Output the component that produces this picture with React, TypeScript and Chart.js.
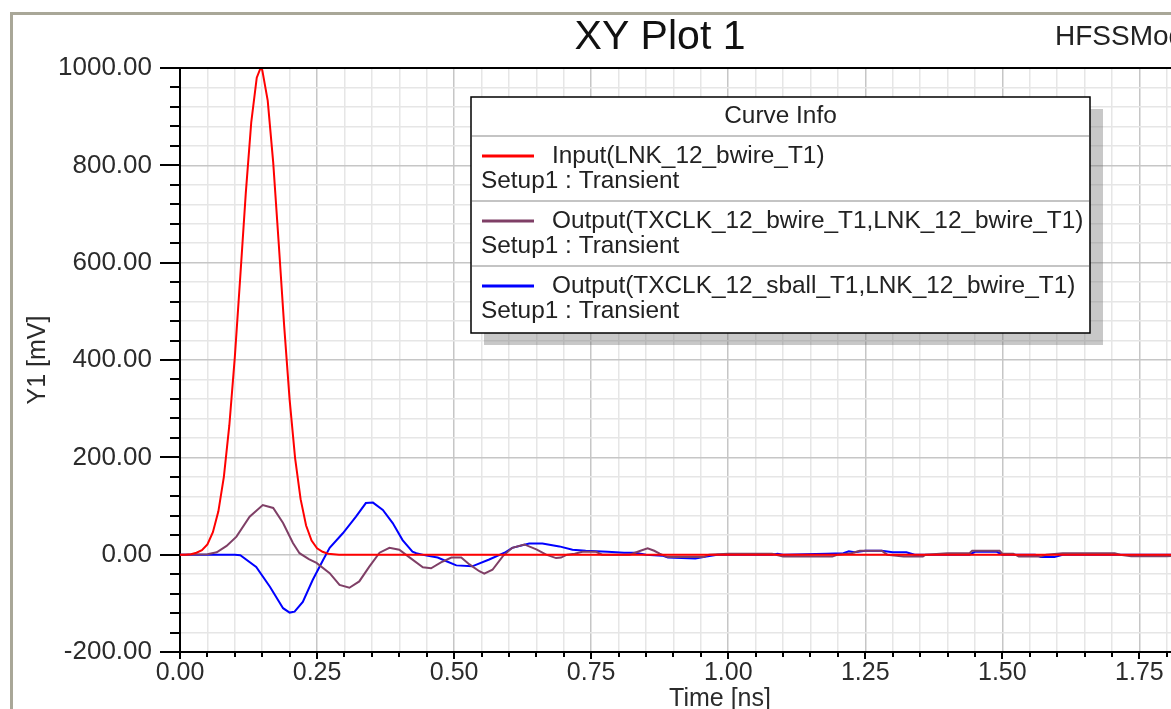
import React, { useEffect, useRef } from "react";
import { Chart, registerables } from "chart.js";

Chart.register(...registerables);

// ---------- data ----------
const chartTitle = "XY Plot 1";
const projectName = "HFSSModel1";
const xAxisTitle = "Time [ns]";
const yAxisTitle = "Y1 [mV]";
const legendTitle = "Curve Info";
const seriesSetup = "Setup1 : Transient";

const seriesLabels = [
  "Input(LNK_12_bwire_T1)",
  "Output(TXCLK_12_bwire_T1,LNK_12_bwire_T1)",
  "Output(TXCLK_12_sball_T1,LNK_12_bwire_T1)",
];
const seriesColors = ["#ff0000", "#7f3f66", "#0000ff"];

const inputTimeNs = [0, 0.01, 0.02, 0.03, 0.04, 0.05, 0.06, 0.07, 0.08, 0.09, 0.1, 0.11, 0.12, 0.13, 0.14, 0.147, 0.15, 0.16, 0.17, 0.18, 0.19, 0.2, 0.21, 0.22, 0.23, 0.24, 0.25, 0.26, 0.27, 0.28, 0.29, 2.0];
const inputMv = [0, 0, 1, 4, 9, 21, 46, 89, 160, 266, 406, 572, 743, 889, 980, 1000, 996, 933, 806, 641, 470, 318, 198, 114, 60, 29, 13, 6, 2, 1, 0, 0];

const bwireTimeNs = [0, 0.05, 0.067, 0.085, 0.103, 0.127, 0.151, 0.17, 0.188, 0.206, 0.218, 0.235, 0.249, 0.273, 0.291, 0.309, 0.327, 0.345, 0.364, 0.382, 0.4, 0.418, 0.443, 0.458, 0.476, 0.495, 0.513, 0.528, 0.546, 0.555, 0.57, 0.589, 0.606, 0.628, 0.65, 0.668, 0.686, 0.695, 0.706, 0.72, 0.734, 0.759, 0.77, 0.82, 0.84, 0.853, 0.865, 0.875, 0.885, 0.89, 0.955, 0.965, 1.0, 1.08, 1.1, 1.19, 1.2, 1.225, 1.24, 1.28, 1.29, 1.32, 1.355, 1.36, 1.4, 1.44, 1.445, 1.495, 1.5, 1.52, 1.53, 1.57, 1.58, 1.61, 1.705, 1.715, 1.735, 1.8, 1.85, 2.0];
const bwireMv = [0, 1, 5, 18, 37, 78, 102, 96, 65, 24, 3, -9, -17, -38, -62, -68, -55, -25, 4, 14, 10, -5, -26, -28, -16, -6, -6, -20, -34, -39, -31, -3, 14, 21, 11, 0, -7, -6, 0, 2, 6, 6, 0, 0, 8, 13, 8, 2, -3, -5, -5, 0, 2, 2, -4, -4, 0, 3, 8, 8, 0, -4, -4, 0, 3, 3, 8, 8, 2, 2, -4, -4, 0, 3, 3, 0, -3, -3, 0, 0];

const sballTimeNs = [0, 0.1, 0.11, 0.139, 0.164, 0.188, 0.2, 0.209, 0.224, 0.242, 0.261, 0.273, 0.297, 0.321, 0.339, 0.352, 0.37, 0.388, 0.406, 0.424, 0.431, 0.45, 0.47, 0.485, 0.504, 0.533, 0.564, 0.592, 0.606, 0.637, 0.661, 0.692, 0.716, 0.74, 0.78, 0.81, 0.83, 0.85, 0.88, 0.89, 0.94, 0.96, 0.98, 1.08, 1.09, 1.1, 1.18, 1.21, 1.22, 1.23, 1.25, 1.28, 1.3, 1.325, 1.34, 1.44, 1.45, 1.49, 1.5, 1.56, 1.57, 1.595, 1.61, 2.0];
const sballMv = [0, 0, -1, -25, -66, -110, -119, -117, -97, -52, -11, 14, 44, 78, 106, 107, 92, 65, 30, 6, 3, -2, -6, -13, -22, -24, -10, 4, 14, 23, 23, 17, 10, 8, 6, 4, 4, 0, -2, -6, -8, -4, 0, 0, 2, 0, 2, 3, 7, 5, 8, 8, 5, 5, 0, 0, 6, 6, 0, 0, -5, -5, 0, 0];

// axis ranges and tick steps
const xMin = 0;
const xMax = 1.97;
const xMinorStep = 0.05;
const xMajorStep = 0.25;
const yMin = -200;
const yMax = 1000;
const yMinorStep = 40;
const yMajorStep = 200;

// ---------- layout ----------
const CANVAS_W = 1320;
const CANVAS_H = 730;
const PLOT_LEFT = 180;
const PLOT_TOP = 68;
const PLOT_BOTTOM = 652;
const PLOT_RIGHT = 1260;
const FONT = "'Liberation Sans', Arial, sans-serif";

const isMultiple = (v: number, step: number) => Math.abs(v / step - Math.round(v / step)) < 1e-6;

const decorPlugin = {
  id: "decor",
  beforeDraw(chart: any) {
    const ctx = chart.ctx;
    ctx.save();
    ctx.fillStyle = "#ffffff";
    ctx.fillRect(0, 0, chart.width, chart.height);
    // outer window frame
    ctx.strokeStyle = "#a9a798";
    ctx.lineWidth = 3;
    ctx.beginPath();
    ctx.moveTo(11.5, chart.height);
    ctx.lineTo(11.5, 13.5);
    ctx.lineTo(chart.width, 13.5);
    ctx.stroke();
    ctx.restore();
  },
  afterDraw(chart: any) {
    const ctx = chart.ctx;
    const xs = chart.scales.x;
    const ys = chart.scales.y;
    const area = chart.chartArea;
    ctx.save();
    // titles
    ctx.fillStyle = "#111111";
    ctx.font = `41px ${FONT}`;
    ctx.textAlign = "center";
    ctx.textBaseline = "middle";
    ctx.fillText(chartTitle, 660, 38);
    ctx.font = `28px ${FONT}`;
    ctx.textAlign = "left";
    ctx.fillStyle = "#222222";
    ctx.fillText(projectName, 1055, 37);

    // axis lines and tick marks
    ctx.strokeStyle = "#000000";
    ctx.lineWidth = 2;
    ctx.beginPath();
    ctx.moveTo(160, area.top);
    ctx.lineTo(chart.width, area.top);
    ctx.stroke();
    ys.ticks.forEach((t: any) => {
      const py = Math.round(ys.getPixelForValue(t.value));
      const major = isMultiple(t.value, yMajorStep);
      ctx.beginPath();
      ctx.moveTo(major ? 160 : 170, py);
      ctx.lineTo(area.left, py);
      ctx.stroke();
    });
    xs.ticks.forEach((t: any) => {
      const px = Math.round(xs.getPixelForValue(t.value));
      const major = isMultiple(t.value, xMajorStep);
      ctx.beginPath();
      ctx.moveTo(px, area.bottom);
      ctx.lineTo(px, area.bottom + (major ? 7 : 5));
      ctx.stroke();
    });

    // legend ("Curve Info" box)
    const lx = 471, ly = 97, lw = 619, lh = 236;
    ctx.fillStyle = "rgba(110,110,110,0.38)";
    ctx.fillRect(lx + 13, ly + 12, lw, lh);
    ctx.fillStyle = "#ffffff";
    ctx.fillRect(lx, ly, lw, lh);
    ctx.strokeStyle = "#000000";
    ctx.lineWidth = 1.5;
    ctx.strokeRect(lx, ly, lw, lh);
    ctx.fillStyle = "#222222";
    ctx.font = `24.4px ${FONT}`;
    ctx.textAlign = "center";
    ctx.textBaseline = "middle";
    ctx.fillText(legendTitle, lx + lw / 2, 116);
    const sepY = [136, 201, 266];
    const rowY = [156, 221, 286];
    ctx.strokeStyle = "#c4c4c4";
    ctx.lineWidth = 2;
    sepY.forEach((y) => {
      ctx.beginPath();
      ctx.moveTo(lx + 1, y);
      ctx.lineTo(lx + lw - 1, y);
      ctx.stroke();
    });
    chart.data.datasets.forEach((ds: any, i: number) => {
      const y = rowY[i];
      ctx.strokeStyle = ds.borderColor;
      ctx.lineWidth = 3;
      ctx.beginPath();
      ctx.moveTo(lx + 11, y);
      ctx.lineTo(lx + 63, y);
      ctx.stroke();
      ctx.fillStyle = "#222222";
      ctx.textAlign = "left";
      ctx.fillText(ds.label, lx + 81, y);
      ctx.fillText(seriesSetup, lx + 10, y + 25);
    });
    ctx.restore();
  },
};

export default function App() {
  const canvasRef = useRef<HTMLCanvasElement | null>(null);

  useEffect(() => {
    const canvas = canvasRef.current;
    if (!canvas) return;
    const toPoints = (ts: number[], vs: number[]) => ts.map((t, i) => ({ x: t, y: vs[i] }));
    const series = [
      toPoints(inputTimeNs, inputMv),
      toPoints(bwireTimeNs, bwireMv),
      toPoints(sballTimeNs, sballMv),
    ];
    const chart = new Chart(canvas, {
      type: "line",
      data: {
        datasets: series.map((pts, i) => ({
          label: seriesLabels[i],
          data: pts,
          borderColor: seriesColors[i],
          backgroundColor: seriesColors[i],
          borderWidth: 2,
          pointRadius: 0,
          tension: 0,
          fill: false,
        })),
      },
      options: {
        responsive: false,
        animation: false,
        devicePixelRatio: 1,
        events: [],
        layout: {
          padding: { left: 0, top: PLOT_TOP, right: CANVAS_W - PLOT_RIGHT, bottom: 0 },
        },
        plugins: {
          legend: { display: false },
          title: { display: false },
          tooltip: { enabled: false },
        },
        scales: {
          x: {
            type: "linear",
            min: xMin,
            max: xMax,
            afterBuildTicks: (scale: any) => {
              const ticks = [];
              const n = Math.floor((xMax - xMin) / xMinorStep + 1e-6);
              for (let i = 0; i <= n; i++) ticks.push({ value: xMin + i * xMinorStep });
              scale.ticks = ticks;
            },
            afterFit: (scale: any) => {
              scale.height = CANVAS_H - PLOT_BOTTOM;
            },
            grid: {
              drawTicks: false,
              lineWidth: 1.5,
              color: (c: any) => (c.tick && isMultiple(c.tick.value, xMajorStep) ? "#c6c6c6" : "#e6e6e6"),
            },
            border: { display: true, color: "#000000", width: 2 },
            ticks: {
              autoSkip: false,
              maxRotation: 0,
              padding: 6,
              color: "#2b2b2b",
              font: { family: FONT, size: 25 },
              callback: (v: any) => (isMultiple(Number(v), xMajorStep) ? Number(v).toFixed(2) : ""),
            },
            title: {
              display: true,
              text: xAxisTitle,
              color: "#2b2b2b",
              font: { family: FONT, size: 25 },
              padding: { top: 0, bottom: 16 },
            },
          },
          y: {
            type: "linear",
            min: yMin,
            max: yMax,
            afterBuildTicks: (scale: any) => {
              const ticks = [];
              const n = Math.round((yMax - yMin) / yMinorStep);
              for (let i = 0; i <= n; i++) ticks.push({ value: yMin + i * yMinorStep });
              scale.ticks = ticks;
            },
            afterFit: (scale: any) => {
              scale.width = PLOT_LEFT;
            },
            grid: {
              drawTicks: false,
              lineWidth: 1.5,
              color: (c: any) => (c.tick && isMultiple(c.tick.value, yMajorStep) ? "#c6c6c6" : "#e6e6e6"),
            },
            border: { display: true, color: "#000000", width: 2 },
            ticks: {
              autoSkip: false,
              padding: 28,
              color: "#2b2b2b",
              font: { family: FONT, size: 26 },
              callback: (v: any) => (isMultiple(Number(v), yMajorStep) ? Number(v).toFixed(2) : ""),
            },
            title: {
              display: true,
              text: yAxisTitle,
              color: "#2b2b2b",
              font: { family: FONT, size: 25 },
              padding: { top: 23, bottom: 0 },
            },
          },
        },
      },
      plugins: [decorPlugin],
    });
    return () => chart.destroy();
  }, []);

  return (
    <div
      style={{
        position: "fixed",
        left: 0,
        top: 0,
        width: 1171,
        height: 709,
        overflow: "hidden",
        background: "#ffffff",
      }}
    >
      <canvas
        ref={canvasRef}
        width={CANVAS_W}
        height={CANVAS_H}
        style={{ display: "block", width: CANVAS_W, height: CANVAS_H }}
      />
    </div>
  );
}
